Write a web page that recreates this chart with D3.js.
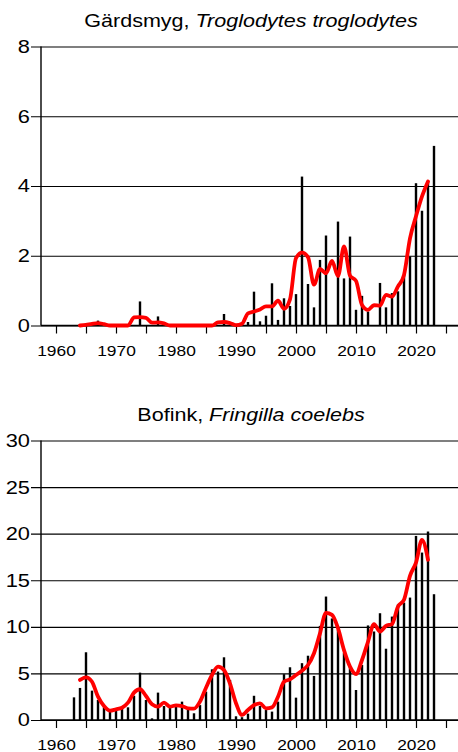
<!DOCTYPE html>
<html><head><meta charset="utf-8">
<script src="https://cdn.jsdelivr.net/npm/d3@7"></script>
<style>
html,body{margin:0;padding:0;background:#fff;}
svg{display:block;font-family:"Liberation Sans",Arial,sans-serif;}
</style></head>
<body>
<svg id="c" width="458" height="752"></svg>
<script>
const years = d3.range(1963, 2024);
const trendYears = d3.range(1964, 2023);
const xTickYears = d3.range(1960, 2026, 5);
const xLabelYears = [1960, 1970, 1980, 1990, 2000, 2010, 2020];

const wrenTitle = ["Gärdsmyg, ", "Troglodytes troglodytes"];
const wrenTicks = [0, 2, 4, 6, 8];
const wrenValues = [
  0, 0, 0, 0, 0.14, 0, 0, 0, 0, 0,          // 1963-1972
  0, 0.69, 0, 0, 0.26, 0, 0, 0, 0, 0,       // 1973-1982
  0, 0, 0, 0, 0, 0.33, 0, 0, 0, 0.1,        // 1983-1992
  0.97, 0.12, 0.28, 1.21, 0.16, 0.78, 0.56, 0.9, 4.27, 1.19, // 1993-2002
  0.52, 1.88, 2.58, 0, 2.98, 1.35, 2.55, 0.45, 0.85, 0.4,    // 2003-2012
  0, 1.22, 0.52, 0.93, 0.98, 1.45, 1.98, 4.08, 3.29, 4.13,   // 2013-2022
  5.15                                                        // 2023
];
const wrenTrend = [
  0, 0.02, 0.05, 0.07, 0.04, 0, 0, 0, 0, 0.23,      // 1964-1973
  0.24, 0.22, 0.08, 0.09, 0.06, 0, 0, 0, 0, 0,      // 1974-1983
  0, 0, 0, 0.09, 0.1, 0.07, 0.01, 0.05, 0.35, 0.4,  // 1984-1993
  0.46, 0.55, 0.55, 0.71, 0.48, 0.75, 1.93, 2.09, 1.96, 1.17, // 1994-2003
  1.62, 1.5, 1.85, 1.42, 2.27, 1.43, 1.28, 0.59, 0.45, 0.58,  // 2004-2013
  0.57, 0.88, 0.83, 1.12, 1.45, 2.5, 3.13, 3.7, 4.13          // 2014-2022
];

const finchTitle = ["Bofink, ", "Fringilla coelebs"];
const finchTicks = [0, 5, 10, 15, 20, 25, 30];
const finchValues = [
  2.43, 3.44, 7.27, 3.15, 2.15, 1.36, 1.07, 1.07, 1.36, 1.36, // 1963-1972
  2.6, 5.08, 2.15, 0.18, 2.94, 1.5, 1.36, 1.6, 1.97, 1.15,    // 1973-1982
  0.72, 1.6, 3.04, 5.44, 5.2, 6.73, 4.3, 0.4, 0.3, 0.68,      // 1983-1992
  2.6, 1.5, 1.07, 0.9, 1.97, 4.92, 5.66, 2.4, 6.1, 6.9,       // 1993-2002
  4.73, 10.1, 13.25, 10.9, 9.7, 7.2, 5.8, 3.22, 5.9, 10.15,   // 2003-2012
  9.5, 11.46, 7.65, 11.1, 12.4, 12.6, 13.14, 19.76, 17.97, 20.23, // 2013-2022
  13.5                                                         // 2023
];
const finchTrend = [
  4.3, 4.58, 4.1, 2.5, 1.5, 1.0, 1.15, 1.32, 1.86, 2.94,     // 1964-1973
  3.3, 2.58, 1.68, 1.43, 1.86, 1.43, 1.57, 1.5, 1.25, 1.22,  // 1974-1983
  1.97, 3.47, 4.83, 5.73, 5.37, 3.9, 1.8, 0.54, 1.07, 1.6,   // 1984-1993
  1.79, 1.25, 1.36, 2.5, 4.1, 4.37, 4.83, 5.3, 5.9, 7.16,    // 1994-2003
  9.3, 11.5, 11.28, 9.85, 7.5, 5.73, 4.94, 6.44, 8.4, 10.3,  // 2004-2013
  9.5, 10.1, 10.3, 12.17, 12.9, 15.47, 16.9, 19.33, 17.2     // 2014-2022
];

const svg = d3.select("#c");
const x = d3.scaleLinear().domain([1957.5, 2027.5]).range([41, 461]);

function stretch(sel, factor) {
  sel.each(function () {
    const len = this.getComputedTextLength();
    if (len > 0) {
      d3.select(this).attr("textLength", len * factor).attr("lengthAdjust", "spacingAndGlyphs");
    }
  });
}

function panel(cfg) {
  const y = d3.scaleLinear().domain([0, cfg.ticks[cfg.ticks.length - 1]]).range([cfg.y0, cfg.y1]);
  const g = svg.append("g");

  // title
  const t = g.append("text").attr("x", 251).attr("y", cfg.titleY)
    .attr("text-anchor", "middle").attr("font-size", 17.5).attr("fill", "#000");
  t.append("tspan").text(cfg.title[0]);
  t.append("tspan").attr("font-style", "italic").text(cfg.title[1]);
  stretch(t, 1.23);

  // y axis with gridlines
  const yAxis = d3.axisLeft(y).tickValues(cfg.ticks).tickSize(-(458 - 31)).tickSizeOuter(0).tickPadding(1)
    .tickFormat(d3.format("d"));
  const ya = g.append("g").attr("transform", "translate(31,0)").call(yAxis);
  ya.select(".domain").remove();
  ya.selectAll(".tick line").attr("stroke", "#000").attr("stroke-width", 1.2);
  ya.selectAll(".tick text").attr("font-size", 18.5).attr("fill", "#000")
    .attr("font-family", "Liberation Sans, Arial, sans-serif");
  stretch(ya.selectAll(".tick text"), 1.18);

  // left axis line
  g.append("line").attr("x1", 41).attr("x2", 41).attr("y1", cfg.y1).attr("y2", cfg.y0)
    .attr("stroke", "#000").attr("stroke-width", 1.4);

  // x axis
  const xAxis = d3.axisBottom(x).tickValues(xTickYears).tickSize(8).tickPadding(11)
    .tickFormat(d => xLabelYears.includes(d) ? d : "");
  const xa = g.append("g").attr("transform", `translate(0,${cfg.y0})`).call(xAxis);
  xa.select(".domain").attr("d", `M41,0H458`).attr("stroke", "#000").attr("stroke-width", 1.4);
  xa.selectAll(".tick line").attr("stroke", "#000").attr("stroke-width", 1.2);
  xa.selectAll(".tick text").attr("font-size", 15.5).attr("fill", "#000")
    .attr("font-family", "Liberation Sans, Arial, sans-serif");
  stretch(xa.selectAll(".tick text"), 1.12);

  // bars
  g.append("g").selectAll("rect").data(years.map((yr, i) => ({yr, v: cfg.values[i]})).filter(d => d.v > 0))
    .join("rect")
    .attr("x", d => x(d.yr) - 1.2).attr("width", 2.4)
    .attr("y", d => y(d.v)).attr("height", d => y(0) - y(d.v))
    .attr("fill", "#000");

  // trend
  const line = d3.line().x(d => x(d.yr)).y(d => y(d.v)).curve(d3.curveMonotoneX);
  g.append("path").datum(trendYears.map((yr, i) => ({yr, v: cfg.trend[i]})))
    .attr("d", line).attr("fill", "none").attr("stroke", "#ff0000")
    .attr("stroke-width", 3.8).attr("stroke-linejoin", "round").attr("stroke-linecap", "round");
}

panel({title: wrenTitle, ticks: wrenTicks, values: wrenValues, trend: wrenTrend,
       y0: 325.5, y1: 46.5, titleY: 27});
panel({title: finchTitle, ticks: finchTicks, values: finchValues, trend: finchTrend,
       y0: 720, y1: 440.5, titleY: 421});
</script>
</body></html>
